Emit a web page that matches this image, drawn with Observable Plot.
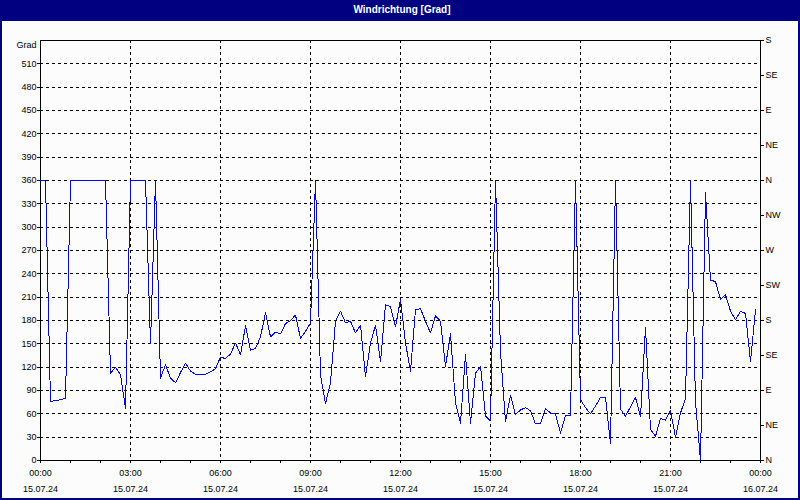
<!DOCTYPE html>
<html>
<head>
<meta charset="utf-8">
<script src="https://cdn.jsdelivr.net/npm/d3@7"></script>
<script src="https://cdn.jsdelivr.net/npm/@observablehq/plot@0.6"></script>
<style>
  html, body { margin: 0; padding: 0; background: #fbfcfb; }
  #wrap { position: relative; width: 800px; height: 500px; overflow: hidden; background: #fbfcfb; }
  #title { height: 21px; background: #000080; color: #fff; font: bold 10px "Liberation Sans", Arial, sans-serif;
           text-align: center; line-height: 19px; padding-left: 4px; box-sizing: border-box; }
  #border { position: absolute; left: 0; top: 0; width: 800px; height: 500px; box-sizing: border-box;
            border: 2px solid #000080; pointer-events: none; }
  svg { display: block; }
</style>
</head>
<body>
<div id="wrap">
  <div id="title">Windrichtung [Grad]</div>
  <div id="chart"></div>
  <div id="border"></div>
</div>
<script>
// ---- data ----
const startTime = "2024-07-15T00:00:00Z";
const endTime = "2024-07-16T00:00:00Z";
const stepMinutes = 10;
// wind direction [degrees], one reading every 10 minutes from 00:00
const windDir = [
  360, 360, 76, 77, 78, 80, 360, 360, 360, 360,
  360, 360, 360, 360, 112, 120, 110, 67, 360, 360,
  360, 360, 150, 360, 106, 123, 106, 100, 113, 125,
  115, 111, 110, 111, 114, 118, 133, 131, 137, 151,
  136, 173, 142, 144, 159, 190, 159, 165, 163, 176,
  180, 187, 157, 166, 177, 360, 110, 73, 100, 179,
  192, 177, 179, 164, 174, 108, 151, 174, 127, 200,
  198, 172, 207, 151, 115, 194, 195, 179, 164, 186,
  179, 121, 163, 74, 48, 136, 48, 112, 121, 57,
  51, 360, 140, 50, 84, 59, 65, 68, 64, 47,
  47, 67, 61, 60, 35, 58, 58, 360, 78, 68,
  60, 70, 81, 81, 22, 360, 66, 57, 69, 81,
  56, 171, 40, 31, 54, 52, 64, 30, 61, 80,
  360, 75, 0, 344, 232, 230, 207, 213, 192, 181,
  192, 189, 127, 194
];
const leftTicks = [0, 30, 60, 90, 120, 150, 180, 210, 240, 270, 300, 330, 360, 390, 420, 450, 480, 510];
const compassTicks = [0, 45, 90, 135, 180, 225, 270, 315, 360, 405, 450, 495, 540];
const compassLabels = ["N", "NE", "E", "SE", "S", "SW", "W", "NW", "N", "NE", "E", "SE", "S"];
const yMax = 540;
const axisTitle = "Grad";

// ---- build ----
const t0 = new Date(startTime);
const t1 = new Date(endTime);
const rows = windDir.map((v, i) => ({date: d3.utcMinute.offset(t0, i * stepMinutes), dir: v}));
const font = "'Liberation Sans', Arial, sans-serif";

const chart = Plot.plot({
  width: 800,
  height: 479,
  marginTop: 19,
  marginBottom: 40,
  marginLeft: 40,
  marginRight: 40,
  style: {background: "#fbfcfb", fontFamily: font, fontSize: "9px", color: "#000", shapeRendering: "crispEdges"},
  x: {type: "utc", domain: [t0, t1], label: null},
  y: {domain: [0, yMax], label: null},
  marks: [
    Plot.gridY(leftTicks, {stroke: "#000", strokeOpacity: 1, strokeDasharray: "3,3"}),
    Plot.gridX({ticks: d3.utcHour.every(3), stroke: "#000", strokeOpacity: 1, strokeDasharray: "3,3"}),
    Plot.frame({stroke: "#000"}),
    Plot.axisY(leftTicks, {anchor: "left", tickSize: 3, tickPadding: 1, fontSize: 9, label: null}),
    Plot.axisY(compassTicks, {anchor: "right", tickSize: 3, tickPadding: 2, fontSize: 9, label: null,
      tickFormat: d => compassLabels[compassTicks.indexOf(d)]}),
    Plot.axisX({ticks: d3.utcHour.every(1), tickSize: 3, fill: "none", label: null}),
    Plot.axisX({ticks: d3.utcHour.every(3), tickSize: 0, tickPadding: 9, fontSize: 9, label: null,
      tickFormat: d3.utcFormat("%H:%M")}),
    Plot.axisX({ticks: d3.utcHour.every(3), tickSize: 0, tickPadding: 25, fontSize: 9, label: null,
      tickFormat: d3.utcFormat("%d.%m.%y")}),
    Plot.text([axisTitle], {frameAnchor: "top-left", textAnchor: "end", lineAnchor: "middle", dx: -4, dy: 5, fontSize: 9}),
    Plot.line(rows, {x: "date", y: "dir", stroke: "#0000ff", strokeWidth: 1})
  ]
});
document.getElementById("chart").appendChild(chart);
</script>
</body>
</html>
